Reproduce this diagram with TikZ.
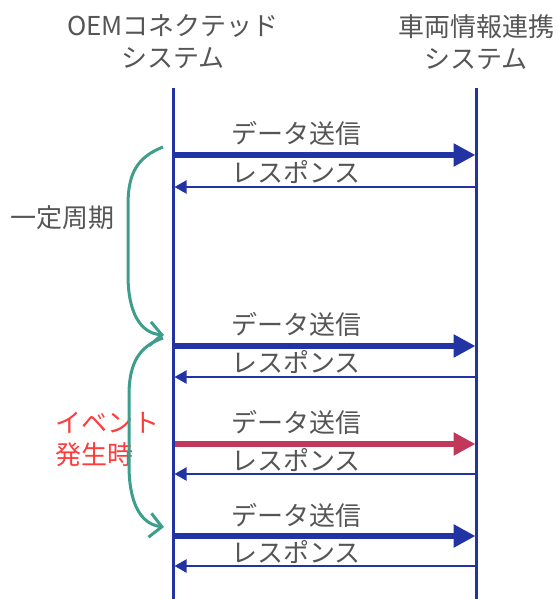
\documentclass[tikz,border=0pt]{standalone}
\usepackage{fontspec}
\setmainfont{Noto Sans CJK JP}
\usetikzlibrary{arrows.meta}
\definecolor{lineblue}{HTML}{2233A3}
\definecolor{evred}{HTML}{C0385A}
\definecolor{teal}{HTML}{3E9E8C}
\definecolor{txtgray}{HTML}{555555}
\definecolor{txtred}{HTML}{FF3B3B}
\tikzset{
  lifeline/.style={draw=lineblue, line width=3pt},
  sendarr/.style={draw=lineblue, line width=6pt, -{Triangle[length=22pt,width=22pt]}, shorten >=-1pt},
  eventarr/.style={sendarr, draw=evred, -{Triangle[length=22pt,width=22pt,fill=evred]}},
  resparr/.style={draw=lineblue, line width=2pt, -{Triangle[length=12pt,width=13pt]}},
  cycle arrow/.style={draw=teal, line width=3pt, -{Straight Barb[length=12pt,width=24pt,line width=3pt]}},
  msglabel/.style={font=\fontsize{26}{32}\selectfont, text=txtgray, anchor=west, inner sep=0pt},
  sysname/.style={font=\fontsize{26}{32}\selectfont, text=txtgray, align=center, inner sep=0pt},
  sidelabel/.style={font=\fontsize{26}{32}\selectfont, inner sep=0pt, align=left},
}
\begin{document}
\begin{tikzpicture}[x=1pt,y=-1pt]
\useasboundingbox (0,0) rectangle (558,599);
% system names
\node[sysname] (oem) at (173,42) {OEMコネクテッド\\システム};
\node[sysname] (veh) at (476,42) {車両情報連携\\システム};
% lifelines
\coordinate (Ltop) at (173,88);
\coordinate (Lbot) at (173,599);
\coordinate (Rtop) at (476,88);
\coordinate (Rbot) at (476,599);
\draw[lifeline] (Ltop) -- (Lbot);
\draw[lifeline] (Rtop) -- (Rbot);
% message points
\foreach \n/\ys/\yr in {1/155/187, 2/346/377, 3/444/474, 4/536/566}{
  \coordinate (s\n L) at (174.5,\ys);
  \coordinate (s\n R) at (474.5,\ys);
  \coordinate (r\n L) at (174.5,\yr);
  \coordinate (r\n R) at (474.5,\yr);
}
% messages
\draw[sendarr] (s1L) -- (s1R);
\draw[resparr] (r1R) -- (r1L);
\draw[sendarr] (s2L) -- (s2R);
\draw[resparr] (r2R) -- (r2L);
\draw[eventarr] (s3L) -- (s3R);
\draw[resparr] (r3R) -- (r3L);
\draw[sendarr] (s4L) -- (s4R);
\draw[resparr] (r4R) -- (r4L);
% labels
\node[msglabel] (d1) at (231,133) {データ送信};
\node[msglabel] (p1) at (231,172) {レスポンス};
\node[msglabel] (d2) at (231,324) {データ送信};
\node[msglabel] (p2) at (231,362) {レスポンス};
\node[msglabel] (d3) at (231,422) {データ送信};
\node[msglabel] (p3) at (231,460) {レスポンス};
\node[msglabel] (d4) at (231,515) {データ送信};
\node[msglabel] (p4) at (231,552) {レスポンス};
% side labels
\node[sidelabel, text=txtgray, anchor=west] (cyc) at (10,218) {一定周期};
\node[sidelabel, text=txtred, anchor=west] (evt) at (55,439) {イベント\\発生時};
% cycle arrows
\coordinate (c1s) at (163,147);
\coordinate (c1e) at (164,335);
\coordinate (c2s) at (163,338);
\coordinate (c2e) at (164,527);
\draw[cycle arrow] (c1s) .. controls (138,157) and (128,172) .. (128,205) -- (128,275) .. controls (128,312) and (140,333) .. (c1e);
\draw[cycle arrow] (c2s) .. controls (140,346) and (129,362) .. (129,395) -- (129,465) .. controls (129,502) and (140,524) .. (c2e);
\end{tikzpicture}
\end{document}
